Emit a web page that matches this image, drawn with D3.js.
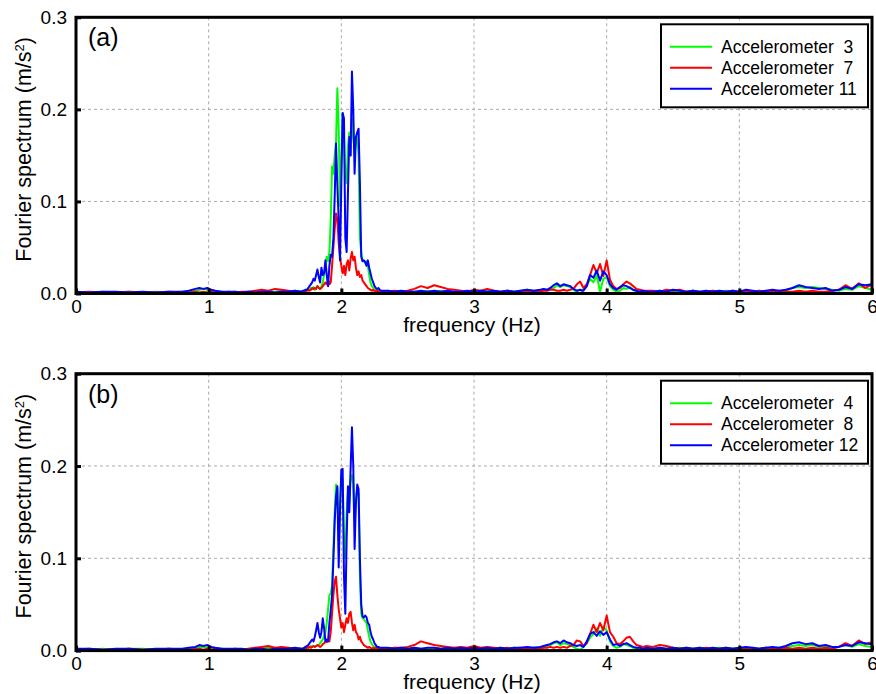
<!DOCTYPE html>
<html>
<head>
<meta charset="utf-8">
<script src="https://cdn.jsdelivr.net/npm/d3@7"></script>
<style>
    body { margin: 0; background: #fff; }
    text { font-family: "Liberation Sans", Arial, sans-serif; fill: #000; }
</style>
</head>
<body>
<div id="chart"></div>
<script>
/*
    FOURIER SPECTRA, TWO PANELS
*/

// frequency grid (Hz), shared by every series
const freq = [
    0, 0.1, 0.2, 0.3, 0.4, 0.5, 0.6, 0.7, 0.8,
    0.85, 0.9, 0.93, 0.96, 0.99, 1.02, 1.05, 1.1, 1.15,
    1.2, 1.25, 1.3, 1.35, 1.4, 1.45, 1.5, 1.55, 1.6, 1.65,
    1.70, 1.71, 1.72, 1.73, 1.74, 1.75, 1.76, 1.77, 1.78, 1.79,
    1.80, 1.81, 1.82, 1.83, 1.84, 1.85, 1.86, 1.87, 1.88, 1.89,
    1.90, 1.91, 1.92, 1.93, 1.94, 1.95, 1.96, 1.97, 1.98, 1.99,
    2.00, 2.01, 2.02, 2.03, 2.04, 2.05, 2.06, 2.07, 2.08, 2.09,
    2.10, 2.11, 2.12, 2.13, 2.14, 2.15, 2.16, 2.17, 2.18, 2.19,
    2.20, 2.21, 2.22, 2.23, 2.24, 2.25, 2.26, 2.27, 2.28, 2.29,
    2.30,
    2.35, 2.4, 2.45, 2.5, 2.55, 2.6, 2.65, 2.7, 2.75, 2.8, 2.85, 2.9,
    2.95, 3.0, 3.05, 3.1, 3.15, 3.2, 3.25, 3.3, 3.35, 3.4, 3.45,
    3.5, 3.525, 3.55, 3.575, 3.6, 3.625, 3.65, 3.675, 3.7, 3.725, 3.75,
    3.775, 3.8, 3.825, 3.85, 3.875, 3.9, 3.925, 3.95, 3.975, 4.0, 4.025,
    4.05, 4.075, 4.1, 4.125, 4.15, 4.175, 4.2, 4.225, 4.25, 4.275, 4.3,
    4.35, 4.4, 4.45, 4.5, 4.55, 4.6, 4.65, 4.7, 4.75, 4.8, 4.85, 4.9,
    4.95, 5.0, 5.05, 5.1, 5.15, 5.2, 5.25, 5.3, 5.35, 5.4, 5.45, 5.5,
    5.55, 5.6, 5.65, 5.7, 5.75, 5.8, 5.85, 5.9, 5.95, 6.0
]

// panel (a)
const acc3 = [
    .002, .001, .002, .001, .002, .001, .002, .001, .002,
    .002, .003, .004, .005, .004, .003, .002, .002, .001,
    .002, .001, .002, .002, .003, .002, .002, .003, .002, .003,
    .002, .003, .003, .004, .003, .005, .004, .006, .005, .007,
    .004, .006, .008, .006, .005, .008, .012, .020, .030, .040,
    .035, .045, .080, .138, .130, .150, .165, .223, .180, .095,
    .150, .196, .170, .130, .120, .160, .175, .150, .190, .170,
    .155, .165, .170, .150, .060, .045, .036, .035, .033, .035,
    .030, .020, .012, .008, .006, .004, .004, .003, .004, .003,
    .002,
    .003, .002, .002, .003, .002, .002, .003, .002, .003, .002, .002, .003,
    .002, .003, .002, .003, .002, .002, .003, .002, .003, .004, .003,
    .003, .004, .004, .005, .006, .009, .007, .009, .008, .007, .004,
    .002, .000, .004, .008, .016, .012, .020, .002, .016, .018, .008,
    .004, .002, .003, .006, .005, .007, .004, .002, .001, .002, .002,
    .002, .003, .002, .003, .002, .002, .003, .002, .002, .003, .002, .003,
    .002, .002, .003, .002, .003, .002, .003, .002, .003, .006, .007, .006,
    .007, .006, .005, .004, .003, .005, .004, .008, .006, .004
]
const acc7 = [
    .001, .002, .001, .001, .002, .001, .001, .002, .001,
    .001, .002, .001, .002, .001, .002, .001, .001, .002,
    .001, .002, .002, .003, .004, .003, .005, .004, .003, .002,
    .002, .002, .003, .002, .003, .004, .003, .004, .006, .005,
    .006, .005, .008, .006, .005, .006, .008, .010, .012, .010,
    .015, .010, .012, .030, .050, .070, .087, .080, .055, .040,
    .030, .022, .030, .020, .032, .036, .025, .038, .045, .036,
    .040, .028, .020, .024, .018, .020, .014, .012, .010, .008,
    .006, .005, .004, .003, .004, .003, .002, .003, .002, .003,
    .002,
    .002, .003, .002, .003, .005, .008, .006, .009, .007, .005, .004, .003,
    .002, .004, .003, .005, .003, .002, .003, .002, .002, .003, .002,
    .002, .003, .003, .004, .004, .003, .003, .004, .003, .004, .005,
    .010, .013, .006, .010, .020, .031, .022, .032, .019, .036, .015,
    .008, .005, .006, .010, .013, .011, .008, .005, .004, .003, .003,
    .003, .002, .004, .003, .004, .002, .003, .002, .002, .003, .002, .002,
    .003, .002, .003, .002, .003, .002, .002, .003, .002, .002, .003, .002,
    .003, .002, .002, .003, .004, .009, .005, .011, .006, .010
]
const acc11 = [
    .002, .001, .002, .002, .001, .002, .001, .002, .002,
    .003, .005, .006, .005, .006, .004, .003, .002, .002,
    .002, .001, .002, .001, .002, .002, .001, .002, .002, .003,
    .002, .003, .003, .004, .004, .006, .008, .010, .012, .016,
    .014, .020, .026, .018, .012, .028, .020, .022, .036, .020,
    .008, .030, .042, .040, .060, .105, .163, .118, .080, .036,
    .120, .196, .190, .060, .045, .110, .170, .150, .241, .200,
    .130, .170, .175, .179, .120, .040, .035, .036, .034, .030,
    .036, .028, .022, .016, .012, .008, .006, .005, .006, .004,
    .003,
    .003, .002, .003, .002, .002, .003, .002, .003, .002, .003, .002, .002,
    .003, .002, .003, .002, .003, .002, .003, .002, .003, .004, .003,
    .004, .005, .004, .006, .009, .011, .008, .010, .009, .008, .005,
    .003, .004, .003, .008, .020, .017, .025, .014, .024, .020, .010,
    .006, .004, .007, .009, .008, .006, .004, .003, .002, .003, .002,
    .002, .003, .002, .004, .003, .002, .003, .002, .003, .002, .003, .002,
    .003, .002, .004, .003, .002, .003, .004, .003, .004, .006, .009, .007,
    .006, .005, .006, .003, .004, .007, .005, .010, .009, .010
]

// panel (b)
const acc4 = [
    .002, .001, .002, .001, .002, .002, .001, .002, .001,
    .002, .003, .004, .004, .003, .003, .002, .002, .001,
    .002, .001, .002, .002, .002, .003, .002, .002, .003, .002,
    .002, .002, .003, .003, .004, .003, .004, .005, .004, .005,
    .004, .005, .006, .006, .008, .010, .012, .016, .020, .030,
    .045, .060, .062, .070, .110, .150, .180, .175, .120, .160,
    .190, .185, .120, .100, .150, .175, .160, .185, .190, .180,
    .140, .165, .175, .170, .080, .040, .035, .034, .032, .030,
    .022, .015, .010, .007, .005, .004, .003, .004, .003, .003,
    .002,
    .002, .003, .002, .002, .003, .002, .002, .003, .002, .002, .003, .002,
    .003, .002, .003, .002, .002, .003, .002, .003, .002, .003, .003,
    .003, .004, .005, .006, .008, .009, .006, .008, .007, .006, .004,
    .002, .001, .004, .008, .014, .018, .024, .016, .026, .022, .010,
    .005, .003, .004, .007, .006, .005, .003, .002, .002, .001, .002,
    .002, .003, .002, .002, .003, .002, .002, .003, .002, .002, .003, .002,
    .002, .003, .002, .003, .002, .003, .002, .003, .004, .005, .006, .005,
    .006, .004, .005, .003, .004, .006, .004, .007, .005, .004
]
const acc8 = [
    .001, .002, .001, .001, .002, .001, .001, .002, .001,
    .001, .002, .002, .001, .002, .001, .002, .001, .001,
    .002, .001, .002, .003, .004, .005, .003, .004, .003, .002,
    .002, .002, .003, .002, .003, .003, .004, .003, .004, .005,
    .004, .005, .006, .005, .004, .005, .007, .008, .010, .009,
    .012, .010, .020, .040, .060, .075, .080, .060, .045, .035,
    .025, .030, .020, .028, .035, .030, .040, .042, .030, .022,
    .028, .020, .018, .012, .015, .010, .008, .006, .005, .004,
    .003, .004, .003, .002, .003, .002, .003, .002, .002, .003,
    .002,
    .002, .003, .003, .004, .006, .010, .008, .006, .005, .004, .003, .004,
    .003, .005, .003, .004, .003, .002, .003, .002, .003, .002, .003,
    .002, .003, .003, .004, .003, .004, .003, .004, .003, .005, .006,
    .011, .010, .005, .008, .018, .028, .020, .030, .022, .038, .020,
    .015, .008, .007, .010, .014, .015, .010, .006, .005, .004, .005,
    .004, .006, .005, .003, .002, .003, .002, .002, .003, .002, .002, .003,
    .002, .002, .003, .002, .002, .003, .002, .002, .003, .002, .003, .002,
    .003, .002, .003, .002, .004, .008, .005, .011, .007, .009
]
const acc12 = [
    .002, .002, .001, .002, .002, .001, .002, .002, .002,
    .003, .004, .006, .005, .006, .004, .003, .002, .002,
    .002, .002, .001, .002, .002, .001, .002, .002, .002, .003,
    .002, .002, .003, .004, .005, .006, .008, .010, .012, .010,
    .015, .022, .030, .020, .014, .020, .035, .024, .010, .012,
    .010, .030, .044, .060, .098, .140, .167, .178, .090, .150,
    .196, .197, .080, .040, .120, .178, .150, .198, .242, .200,
    .110, .160, .180, .175, .100, .050, .037, .036, .038, .036,
    .030, .028, .020, .015, .012, .008, .006, .004, .004, .003,
    .003,
    .003, .002, .003, .002, .003, .002, .003, .003, .002, .003, .002, .003,
    .002, .003, .002, .003, .002, .003, .002, .003, .003, .004, .003,
    .004, .005, .006, .007, .009, .010, .008, .011, .009, .008, .006,
    .005, .006, .004, .010, .018, .020, .016, .021, .017, .020, .012,
    .006, .007, .005, .007, .008, .006, .004, .003, .003, .002, .003,
    .002, .003, .002, .003, .002, .003, .002, .003, .002, .003, .002, .003,
    .002, .003, .004, .003, .002, .003, .004, .003, .005, .008, .009, .007,
    .008, .005, .006, .004, .004, .006, .005, .009, .008, .007
]

// labels and ticks
const panelLabels = ['(a)', '(b)']
const legendNames = [
    ['Accelerometer  3', 'Accelerometer  7', 'Accelerometer 11'],
    ['Accelerometer  4', 'Accelerometer  8', 'Accelerometer 12']
]
const panelSeries = [[acc3, acc7, acc11], [acc4, acc8, acc12]]
const seriesColors = ['#00ff00', '#ff0000', '#0000ff']
const xTicks = [0, 1, 2, 3, 4, 5, 6]
const yTicks = [0.0, 0.1, 0.2, 0.3]

var width = 876,
    height = 694;

var svg = d3.select("#chart").append("svg")
    .attr("width", width)
    .attr("height", height)

// plot area of each panel
const plotLeft = 76, plotRight = 872
const panelTops = [17.3, 373.7]
const panelBottoms = [293.5, 650.6]

var x = d3.scaleLinear()
    .domain([0, 6])
    .range([plotLeft, plotRight])

panelLabels.forEach((label, p) => {

    var y = d3.scaleLinear()
        .domain([0, 0.3])
        .range([panelBottoms[p], panelTops[p]])

    var g = svg.append("g")

    // clip so lines stay inside the frame
    g.append("clipPath")
        .attr("id", "clip" + p)
        .append("rect")
        .attr("x", plotLeft)
        .attr("y", panelTops[p])
        .attr("width", plotRight - plotLeft)
        .attr("height", panelBottoms[p] - panelTops[p])

    // dashed grid
    g.selectAll(".vgrid")
        .data(xTicks.slice(1, -1))
        .enter()
        .append("line")
        .attr("x1", d => x(d))
        .attr("x2", d => x(d))
        .attr("y1", panelTops[p])
        .attr("y2", panelBottoms[p])
        .attr("stroke", "#aaa")
        .attr("stroke-width", 1)
        .attr("stroke-dasharray", "3,3")

    g.selectAll(".hgrid")
        .data(yTicks.slice(1, -1))
        .enter()
        .append("line")
        .attr("x1", plotLeft)
        .attr("x2", plotRight)
        .attr("y1", d => y(d))
        .attr("y2", d => y(d))
        .attr("stroke", "#aaa")
        .attr("stroke-width", 1)
        .attr("stroke-dasharray", "3,3")

    // spectra
    var line = d3.line()
        .defined(d => d[1] !== undefined)
        .x(d => x(d[0]))
        .y(d => y(d[1]))

    var lines = g.append("g").attr("clip-path", `url(#clip${p})`)
    panelSeries[p].forEach((values, i) => {
        lines.append("path")
            .datum(freq.map((f, k) => [f, values[k]]))
            .attr("fill", "none")
            .attr("stroke", seriesColors[i])
            .attr("stroke-width", 2)
            .attr("stroke-linejoin", "round")
            .attr("d", line)
    })

    // axes: inward ticks, labels drawn by the axis generator
    g.append("g")
        .attr("transform", `translate(0,${panelBottoms[p]})`)
        .call(d3.axisBottom(x).tickValues(xTicks).tickFormat(d3.format("d"))
            .tickSizeInner(-5).tickSizeOuter(0).tickPadding(6))
        .call(a => a.select(".domain").remove())
        .call(a => a.selectAll(".tick line").attr("stroke", "#000").attr("stroke-width", 3))
        .call(a => a.selectAll(".tick text").style("font-size", "19px")
            .style("font-family", "'Liberation Sans', Arial, sans-serif"))

    g.append("g")
        .attr("transform", `translate(${plotLeft},0)`)
        .call(d3.axisLeft(y).tickValues(yTicks).tickFormat(d3.format(".1f"))
            .tickSizeInner(-5).tickSizeOuter(0).tickPadding(9))
        .call(a => a.select(".domain").remove())
        .call(a => a.selectAll(".tick line").attr("stroke", "#000").attr("stroke-width", 3))
        .call(a => a.selectAll(".tick text").style("font-size", "19px")
            .style("font-family", "'Liberation Sans', Arial, sans-serif"))

    // frame
    g.append("rect")
        .attr("x", plotLeft)
        .attr("y", panelTops[p])
        .attr("width", plotRight - plotLeft)
        .attr("height", panelBottoms[p] - panelTops[p])
        .attr("fill", "none")
        .attr("stroke", "#000")
        .attr("stroke-width", 3)

    // panel label
    g.append("text")
        .attr("x", 88)
        .attr("y", panelTops[p] + 29)
        .style("font-size", "25px")
        .text(label)

    // axis titles
    g.append("text")
        .attr("transform", `translate(31,${(panelTops[p] + panelBottoms[p]) / 2 - 6}) rotate(-90)`)
        .attr("text-anchor", "middle")
        .style("font-size", "21.5px")
        .text("Fourier spectrum (m/s")
        .append("tspan")
        .attr("baseline-shift", "super")
        .style("font-size", "13px")
        .text("2")
        .select(function () { return this.parentNode })
        .append("tspan")
        .text(")")

    g.append("text")
        .attr("x", (plotLeft + plotRight) / 2 - 2)
        .attr("y", panelBottoms[p] + 38)
        .attr("text-anchor", "middle")
        .style("font-size", "21px")
        .text("frequency (Hz)")

    // legend
    const legTop = panelTops[p] + 7
    var legend = g.append("g")
    legend.append("rect")
        .attr("x", 661)
        .attr("y", legTop)
        .attr("width", 207)
        .attr("height", 83)
        .attr("fill", "#fff")
        .attr("stroke", "#000")
        .attr("stroke-width", 2)

    legendNames[p].forEach((name, i) => {
        const ly = legTop + 22.5 + i * 21
        legend.append("line")
            .attr("x1", 670)
            .attr("x2", 712)
            .attr("y1", ly)
            .attr("y2", ly)
            .attr("stroke", seriesColors[i])
            .attr("stroke-width", 2)
        legend.append("text")
            .attr("x", 721)
            .attr("y", ly + 6)
            .style("font-size", "17.5px")
            .style("white-space", "pre")
            .text(name)
    })
})
</script>
</body>
</html>
